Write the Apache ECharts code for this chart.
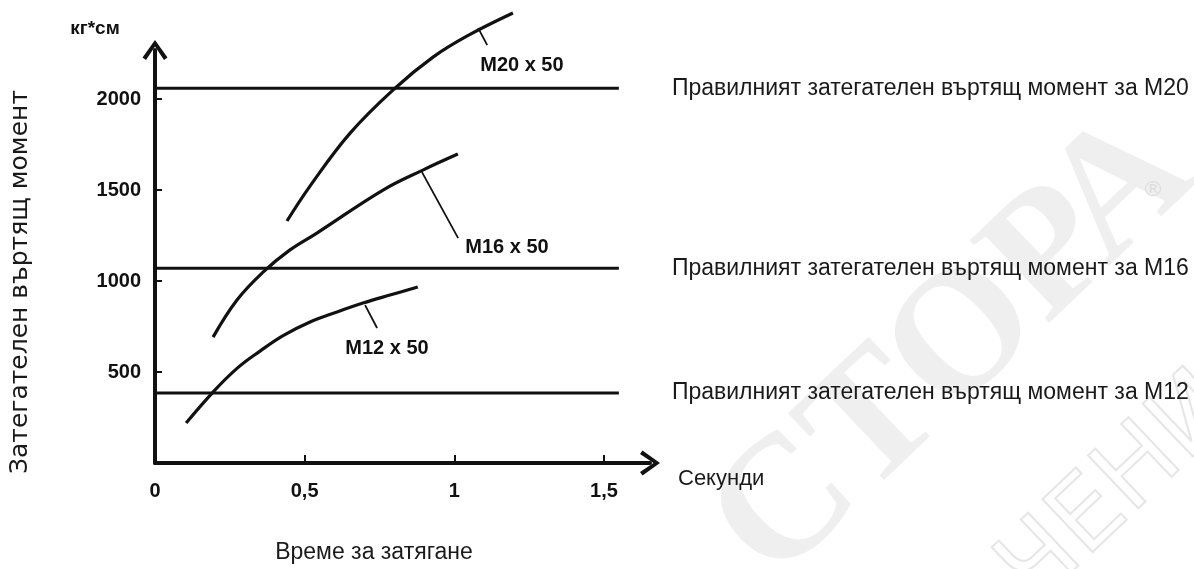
<!DOCTYPE html>
<html><head><meta charset="utf-8">
<script src="https://cdn.jsdelivr.net/npm/echarts@6/dist/echarts.min.js"></script>
<style>html,body{margin:0;padding:0;background:#fff}#c{width:1194px;height:569px}</style>
</head><body><div id="c"></div>
<script>
// ---- data ----
const xTickValues = [0, 0.5, 1, 1.5];
const xTickLabels = ['0', '0,5', '1', '1,5'];
const yTickValues = [500, 1000, 1500, 2000];
const yTickLabels = ['500', '1000', '1500', '2000'];

const curveNames = ['M20 x 50', 'M16 x 50', 'M12 x 50'];
const m20Curve = [[0.441,1330],[0.518,1522],[0.652,1813],[0.802,2060],[0.929,2231],[1.042,2346],[1.196,2473]];
const m16Curve = [[0.194,692],[0.274,896],[0.361,1049],[0.450,1170],[0.541,1264],[0.762,1500],[0.895,1610],[1.012,1698]];
const m12Curve = [[0.104,220],[0.194,390],[0.274,520],[0.351,615],[0.428,700],[0.518,775],[0.608,830],[0.695,879],[0.785,923],[0.878,967]];

const torqueNames = ['M20', 'M16', 'M12'];
const torqueValues = [2060, 1070, 385];
const torqueLineEnd = 1.55;
const torqueText = 'Правилният затегателен въртящ момент за ';

const leaderM20 = [[1.080,2390],[1.110,2297]];
const leaderM16 = [[0.892,1599],[1.013,1236]];
const leaderM12 = [[0.702,868],[0.742,742]];
const curveLabelPos = [[1.226,2187],[1.176,1187],[0.775,632]];

const yName = 'Затегателен въртящ момент';
const xName = 'Време за затягане';
const xUnit = 'Секунди';
const yUnit = 'кг*см';
// ---------------------------------------

const INK = '#111';
const FONT = 'Liberation Sans';
const arrow = 'path://M0,70 L50,0 L100,70 L86,80 L50,26 L14,80 Z';

const curves = [m20Curve, m16Curve, m12Curve];
const leaders = [leaderM20, leaderM16, leaderM12];

const series = [];
torqueNames.forEach((n, i) => {
  series.push({
    type: 'line', name: 'torque ' + n, silent: true, clip: false,
    data: [[0, torqueValues[i]], [torqueLineEnd, torqueValues[i]]],
    symbol: 'none', lineStyle: { color: INK, width: 3 },
    endLabel: { show: true, formatter: torqueText + n, distance: 53,
      fontFamily: FONT, fontSize: 23, color: '#1a1a1a' }
  });
});
curves.forEach((c, i) => {
  series.push({
    type: 'line', name: curveNames[i], silent: true, clip: false,
    data: c, smooth: 0.4, symbol: 'none',
    lineStyle: { color: INK, width: 3.2 }
  });
  series.push({
    type: 'line', silent: true, clip: false, data: leaders[i], symbol: 'none',
    lineStyle: { color: INK, width: 1.8 }
  });
});
series.push({
  type: 'scatter', silent: true, clip: false, symbolSize: 1,
  itemStyle: { color: 'rgba(0,0,0,0)' },
  data: curveLabelPos.map((p, i) => ({ value: p, name: curveNames[i] })),
  label: { show: true, position: 'inside', formatter: p => p.name,
    fontFamily: FONT, fontSize: 20, fontWeight: 'bold', color: INK,
    textBorderWidth: 0, opacity: 1 }
});

const chart = echarts.init(document.getElementById('c'), null, { renderer: 'canvas' });
chart.setOption({
  backgroundColor: '#fff',
  animation: false,
  grid: { left: 155, top: 50, right: 544, bottom: 106, containLabel: false },
  xAxis: {
    type: 'value', min: 0, max: 1.654,
    splitLine: { show: false },
    axisLine: { show: true, lineStyle: { color: INK, width: 4 },
      symbol: ['none', arrow], symbolSize: [26, 20] },
    axisTick: { show: true, inside: true, length: 8, lineStyle: { color: INK, width: 2 },
      customValues: xTickValues.slice(1) },
    axisLabel: { customValues: xTickValues, margin: 18,
      formatter: v => xTickLabels[xTickValues.indexOf(v)],
      fontFamily: FONT, fontSize: 20, fontWeight: 'bold', color: INK }
  },
  yAxis: {
    type: 'value', min: 0, max: 2270,
    splitLine: { show: false },
    axisLine: { show: true, lineStyle: { color: INK, width: 4 },
      symbol: ['none', arrow], symbolSize: [28, 20] },
    axisTick: { show: true, inside: true, length: 7, lineStyle: { color: INK, width: 2 },
      customValues: yTickValues },
    axisLabel: { customValues: yTickValues, margin: 14,
      formatter: v => yTickLabels[yTickValues.indexOf(v)],
      fontFamily: FONT, fontSize: 20, fontWeight: 'bold', color: INK }
  },
  graphic: [
    { type: 'text', z: -10, x: 955, y: 350, rotation: 0.76,
      style: { text: 'СТОРА', font: 'bold 175px "Liberation Serif"', fill: '#efefef',
        align: 'center', verticalAlign: 'middle' } },
    { type: 'text', z: -10, x: 1120, y: 490, rotation: 0.76,
      style: { text: 'ЧЕНИ', font: '100px "DejaVu Sans"', fill: 'rgba(0,0,0,0)', stroke: '#e6e6e6', lineWidth: 2,
        align: 'center', verticalAlign: 'middle' } },
    { type: 'text', z: -10, x: 1153, y: 190,
      style: { text: '®', font: '22px "DejaVu Sans"', fill: '#dcdcdc',
        align: 'center', verticalAlign: 'middle' } },
    { type: 'text', x: 20, y: 282, rotation: Math.PI / 2,
      style: { text: yName, font: '25px "DejaVu Sans"', fill: '#1a1a1a',
        align: 'center', verticalAlign: 'middle' } },
    { type: 'text', x: 374, y: 553,
      style: { text: xName, font: '23px "Liberation Sans"', fill: '#1a1a1a',
        align: 'center', verticalAlign: 'middle' } },
    { type: 'text', x: 678, y: 479,
      style: { text: xUnit, font: '22px "Liberation Sans"', fill: '#1a1a1a',
        align: 'left', verticalAlign: 'middle' } },
    { type: 'text', x: 95, y: 29,
      style: { text: yUnit, font: 'bold 19px "Liberation Sans"', fill: INK,
        align: 'center', verticalAlign: 'middle' } }
  ],
  series: series
});
</script>
</body></html>
